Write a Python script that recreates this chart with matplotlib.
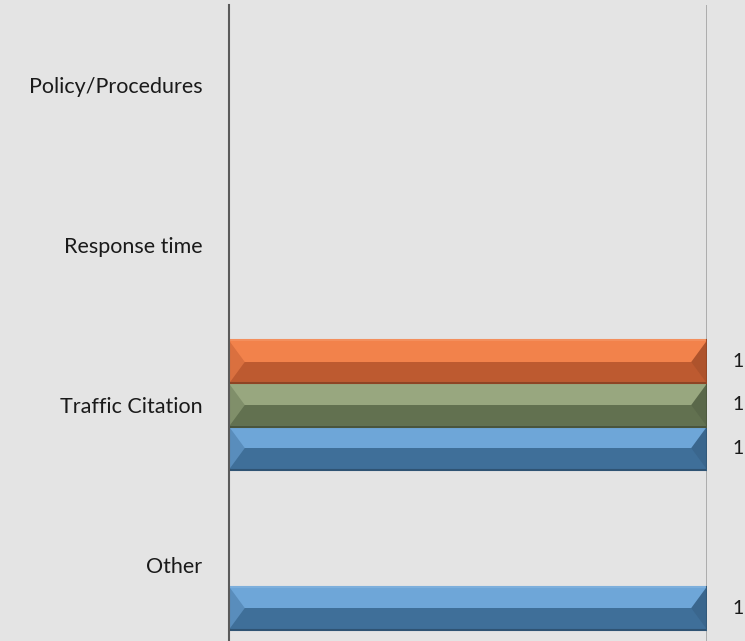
import numpy as np
import matplotlib
matplotlib.use("Agg")
import matplotlib.pyplot as plt
from matplotlib.patches import Polygon
from matplotlib.colors import to_rgb

categories = ["Other", "Traffic Citation", "Response time", "Policy/Procedures"]
series_names = ["Series 1", "Series 2", "Series 3"]
blue_vals = [1, 1, 0, 0]
green_vals = [0, 1, 0, 0]
orange_vals = [0, 1, 0, 0]

# (light top, dark bottom)
colors = [("#6ea6d8", "#3f6f99"), ("#98a77f", "#627150"), ("#f2824b", "#bd5a30")]

plt.rcParams["font.family"] = ["Lato", "DejaVu Sans"]

fig = plt.figure(figsize=(7.45, 6.41), dpi=100)
fig.patch.set_facecolor("#e4e4e4")
ax = fig.add_axes([229 / 745, -4 / 641, 478 / 745, 640 / 641])
ax.set_facecolor("#e4e4e4")

y = np.arange(len(categories))
h = 0.269
offsets = [-h, 0, h]
bevel = 0.033


def mix(c1, c2, t):
    a, b = np.array(to_rgb(c1)), np.array(to_rgb(c2))
    return tuple(a * (1 - t) + b * t)


def draw_bar(yc, val, light, dark):
    if val == 0:
        return
    y0, y1 = yc - h / 2, yc + h / 2
    ax.barh(yc, val, height=h, color=dark, edgecolor="none", zorder=2)
    ax.barh(yc + h * 0.25, val, height=h * 0.5, color=light, edgecolor="none", zorder=3)
    # bevels at the ends
    ax.add_patch(Polygon([(0, y0), (0, y1), (bevel, yc)], closed=True,
                         facecolor=mix(light, dark, 0.45), edgecolor="none", zorder=4))
    ax.add_patch(Polygon([(val, y0), (val, y1), (val - bevel, yc)], closed=True,
                         facecolor=mix(dark, "black", 0.08), edgecolor="none", zorder=4))
    ax.plot([0, val], [y1, y1], color=mix(light, "white", 0.1), lw=1.5, zorder=5)
    ax.plot([0, val], [y0, y0], color=mix(dark, "black", 0.25), lw=1.5, zorder=5)
    ax.plot([val, val], [y0, y1], color=mix(dark, "black", 0.2), lw=1.5, zorder=5)
    ax.text(val + 0.054, yc, str(val), va="center", ha="left", fontsize=14,
            color="#1a1a1a", clip_on=False)


for vals, off, (light, dark) in zip([blue_vals, green_vals, orange_vals], offsets, colors):
    for yi, v in zip(y, vals):
        draw_bar(yi + off, v, light, dark)

ax.set_xlim(0, 1)
ax.set_ylim(-0.5, len(categories) - 0.5)
ax.set_yticks(y)
ax.set_yticklabels(categories, fontsize=15.5, color="#1a1a1a")
ax.tick_params(axis="y", length=0, pad=19)
ax.set_xticks([])
ax.axvline(1, color="#a8a8a8", lw=1.3, zorder=1)
for s in ["top", "bottom", "right"]:
    ax.spines[s].set_visible(False)
ax.spines["left"].set_color("#5a5a5a")
ax.spines["left"].set_linewidth(1.5)
ax.spines["left"].set_zorder(6)

fig.savefig("out.png", dpi=100, facecolor=fig.get_facecolor())
